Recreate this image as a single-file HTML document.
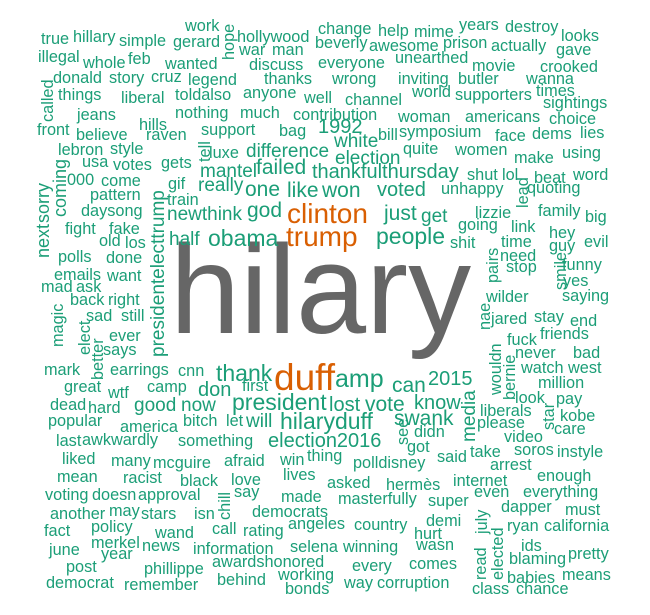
<!DOCTYPE html>
<html><head><meta charset="utf-8"><style>
html,body{margin:0;padding:0;background:#fff;}
svg text{font-family:"Liberation Sans",Arial,sans-serif;}
</style></head><body>
<svg id="cloud" width="650" height="610" viewBox="0 0 650 610" xmlns="http://www.w3.org/2000/svg"></svg>
<script>
// word, font size (frequency-driven), colour group
const words = ["hilary","clinton","trump","duff","obama","people","amp","president","hilaryduff","thank","one","like","won","failed","god","just","can","vote","swank","voted","election2016","thankfulthursday","know","lost","2015","don","1992","white","difference","election","mantel","newthink","half","really","get","good","now","will","media","presidentelecttrump","sorry","next","coming"];
const sizes = [126,28,28,37,23,23,25,23,23,23,21,21,21,21,21,21,21,21,21,20,20,20,20,20,20,20,20,19,19,19,19,19,19,19,19,19,19,19,19,19,18,18,18];
const small = ["work","hollywood","change","help","mime","years","destroy","looks","true","hillary","simple","gerard","war","man","beverly","awesome","prison","actually","gave","illegal","whole","feb","wanted","discuss","everyone","unearthed","movie","crooked","donald","story","cruz","legend","thanks","wrong","inviting","butler","wanna","things","liberal","toldalso","anyone","well","channel","world","supporters","times","jeans","nothing","much","contribution","sightings","front","hills","believe","raven","support","bag","woman","americans","choice","bill","symposium","face","dems","lies","lebron","style","luxe","quite","women","make","using","usa","votes","gets","shut","lol","beat","word","000","come","gif","unhappy","quoting","pattern","train","daysong","lizzie","family","big","fight","fake","old","los","going","link","hey","shit","time","guy","evil","polls","done","need","stop","funny","yes","saying","emails","want","mad","ask","back","right","wilder","sad","still","ever","says","jared","stay","end","friends","fuck","never","bad","watch","west","million","look","pay","liberals","kobe","please","care","video","soros","instyle","take","arrest","enough","everything","even","dapper","must","ryan","california","ids","blaming","pretty","babies","means","class","chance","mark","earrings","cnn","great","wtf","camp","first","dead","hard","popular","america","bitch","let","didn","last","awkwardly","something","got","liked","many","mcguire","afraid","win","thing","lives","polldisney","said","mean","racist","black","love","say","asked","hermès","internet","voting","doesn","approval","made","masterfully","super","another","may","stars","isn","democrats","fact","policy","wand","call","rating","angeles","country","demi","hurt","june","merkel","news","year","information","selena","winning","wasn","post","awardshonored","every","comes","phillippe","behind","working","democrat","remember","bonds","way","corruption","hope","called","tell","lead","pairs","smile","magic","elect","better","nae","wouldn","bernie","star","see","chill","july","elected","read"];
const smallSize = 16.3;
// layout (pixel placement from the rendered cloud): x, baseline y, rotated flag
const layout = {
"hilary":[170,333,0],"clinton":[287,223,0],"trump":[286,246,0],"duff":[274,390,0],"obama":[208,246,0],"people":[376,244,0],"amp":[335,387,0],"president":[232,410,0],"hilaryduff":[280,429,0],"thank":[216,381,0],"one":[245,196,0],"like":[287,197,0],"won":[322,197,0],"failed":[256,174,0],"god":[247,217,0],"just":[384,220,0],"can":[392,392,0],"vote":[365,411,0],"swank":[394,425,0],"voted":[377,196,0],"election2016":[268,447,0],"thankfulthursday":[312,178,0],"know":[414,409,0],"lost":[329,411,0],"2015":[428,385,0],"don":[198,396,0],"1992":[318,133,0],"white":[334,147,0],"difference":[246,157,0],"election":[335,164,0],"mantel":[200,177,0],"newthink":[167,220,0],"half":[169,245,0],"really":[198,191,0],"get":[421,222,0],"good":[134,411,0],"now":[181,411,0],"will":[246,427,0],
"media":[475,442,1],"presidentelecttrump":[164,357,1],"sorry":[49,223,1],"next":[49,258,1],"coming":[66,217,1],
"work":[185,31,0],"hollywood":[237,42,0],"change":[318,34,0],"help":[378,36,0],"mime":[414,37,0],"years":[459,30,0],"destroy":[505,32,0],"looks":[561,41,0],"true":[41,44,0],"hillary":[73,42,0],"simple":[119,46,0],"gerard":[173,47,0],"war":[239,55,0],"man":[272,55,0],"beverly":[315,48,0],"awesome":[369,51,0],"prison":[443,48,0],"actually":[491,51,0],"gave":[556,55,0],"illegal":[38,62,0],"whole":[83,68,0],"feb":[128,64,0],"wanted":[165,69,0],"discuss":[249,70,0],"everyone":[318,68,0],"unearthed":[395,63,0],"movie":[472,71,0],"crooked":[540,72,0],"donald":[53,83,0],"story":[109,83,0],"cruz":[151,82,0],"legend":[188,85,0],"thanks":[264,84,0],"wrong":[332,84,0],"inviting":[398,84,0],"butler":[458,84,0],"wanna":[526,84,0],"things":[58,100,0],"liberal":[121,103,0],"toldalso":[175,100,0],"anyone":[243,98,0],"well":[304,103,0],"channel":[345,105,0],"world":[412,97,0],"supporters":[455,100,0],"times":[536,96,0],"jeans":[77,120,0],"nothing":[175,118,0],"much":[240,118,0],"contribution":[293,120,0],"sightings":[543,108,0],"front":[37,135,0],"hills":[139,130,0],"believe":[76,140,0],"raven":[146,140,0],"support":[201,135,0],"bag":[279,136,0],"woman":[398,122,0],"americans":[465,122,0],"choice":[549,124,0],"bill":[378,140,0],"symposium":[399,137,0],"face":[495,141,0],"dems":[532,139,0],"lies":[580,138,0],"lebron":[58,155,0],"style":[110,154,0],"luxe":[209,158,0],"quite":[403,154,0],"women":[455,155,0],"make":[514,163,0],"using":[562,158,0],"usa":[82,167,0],"votes":[113,170,0],"gets":[161,168,0],"shut":[467,180,0],"lol":[502,180,0],"beat":[534,183,0],"word":[573,180,0],"000":[67,185,0],"come":[101,186,0],"gif":[168,189,0],"unhappy":[441,194,0],"quoting":[527,193,0],"pattern":[90,200,0],"train":[167,205,0],"daysong":[81,216,0],"lizzie":[475,218,0],"family":[538,216,0],"big":[585,222,0],"fight":[65,234,0],"fake":[109,234,0],"old":[99,246,0],"los":[125,248,0],"going":[458,230,0],"link":[511,232,0],"hey":[549,238,0],"shit":[450,248,0],"time":[501,247,0],"guy":[549,251,0],"evil":[584,247,0],"polls":[58,262,0],"done":[106,263,0],"need":[500,261,0],"stop":[506,272,0],"funny":[562,270,0],"yes":[563,286,0],"saying":[562,301,0],"emails":[54,280,0],"want":[107,281,0],"mad":[41,292,0],"ask":[76,292,0],"back":[70,305,0],"right":[108,305,0],"wilder":[486,302,0],"sad":[86,321,0],"still":[121,321,0],"ever":[109,341,0],"says":[103,355,0],"jared":[491,324,0],"stay":[534,322,0],"end":[570,326,0],"friends":[540,339,0],"fuck":[507,345,0],"never":[515,358,0],"bad":[573,358,0],"watch":[521,373,0],"west":[568,373,0],"million":[538,388,0],"look":[515,403,0],"pay":[556,404,0],"liberals":[480,416,0],"kobe":[560,421,0],"please":[477,428,0],"care":[554,434,0],"video":[504,442,0],"soros":[514,455,0],"instyle":[557,457,0],"take":[470,457,0],"arrest":[490,470,0],"enough":[537,481,0],"everything":[523,497,0],"even":[474,497,0],"dapper":[501,512,0],"must":[565,515,0],"ryan":[507,531,0],"california":[544,531,0],"ids":[521,551,0],"blaming":[509,564,0],"pretty":[568,559,0],"babies":[507,583,0],"means":[562,580,0],"class":[472,594,0],"chance":[516,594,0],"mark":[44,375,0],"earrings":[110,375,0],"cnn":[178,376,0],"great":[64,392,0],"wtf":[108,398,0],"camp":[147,392,0],"first":[242,391,0],"dead":[50,410,0],"hard":[88,413,0],"popular":[48,426,0],"america":[120,432,0],"bitch":[183,426,0],"let":[226,426,0],"didn":[414,437,0],"last":[56,446,0],"awkwardly":[82,445,0],"something":[178,446,0],"got":[407,452,0],"liked":[62,464,0],"many":[111,466,0],"mcguire":[153,468,0],"afraid":[224,466,0],"win":[280,465,0],"thing":[307,461,0],"lives":[283,480,0],"polldisney":[353,468,0],"said":[437,462,0],"mean":[57,482,0],"racist":[123,483,0],"black":[180,486,0],"love":[231,485,0],"say":[234,497,0],"asked":[327,488,0],"hermès":[386,490,0],"internet":[453,486,0],"voting":[45,500,0],"doesn":[92,500,0],"approval":[138,500,0],"made":[281,502,0],"masterfully":[338,504,0],"super":[428,506,0],"another":[50,519,0],"may":[109,516,0],"stars":[141,519,0],"isn":[194,519,0],"democrats":[252,517,0],"fact":[44,536,0],"policy":[91,532,0],"wand":[155,538,0],"call":[212,534,0],"rating":[243,536,0],"angeles":[288,529,0],"country":[354,530,0],"demi":[426,526,0],"hurt":[414,539,0],"june":[49,555,0],"merkel":[91,548,0],"news":[142,551,0],"year":[101,559,0],"information":[193,554,0],"selena":[290,552,0],"winning":[343,552,0],"wasn":[416,550,0],"post":[66,572,0],"awardshonored":[212,567,0],"every":[352,571,0],"comes":[409,569,0],"phillippe":[144,574,0],"behind":[217,585,0],"working":[278,580,0],"democrat":[46,588,0],"remember":[124,590,0],"bonds":[285,594,0],"way":[344,588,0],"corruption":[377,588,0],
"hope":[234,60,1],"called":[53,122,1],"tell":[210,162,1],"lead":[528,208,1],"pairs":[498,283,1],"smile":[566,290,1],"magic":[63,347,1],"elect":[90,355,1],"better":[103,380,1],"nae":[490,330,1],"wouldn":[501,395,1],"bernie":[515,400,1],"star":[554,430,1],"see":[408,445,1],"chill":[230,520,1],"july":[487,534,1],"elected":[503,580,1],"read":[486,580,1]
};
const NS = "http://www.w3.org/2000/svg";
const svg = document.getElementById("cloud");
function colorFor(w){
  if (w === "hilary") return "#666666";
  if (w === "clinton" || w === "trump" || w === "duff") return "#d95f02";
  return "#1b9e77";
}
function addWord(w, size){
  const p = layout[w];
  if (!p) return;
  const t = document.createElementNS(NS, "text");
  t.textContent = w;
  t.setAttribute("font-size", size);
  t.setAttribute("fill", colorFor(w));
  if (p[2]) {
    t.setAttribute("transform", "translate(" + p[0] + "," + p[1] + ") rotate(-90)");
  } else {
    t.setAttribute("x", p[0]);
    t.setAttribute("y", p[1]);
  }
  
  
  svg.appendChild(t);
}
words.forEach((w, i) => addWord(w, sizes[i]));
small.forEach(w => addWord(w, smallSize));
</script>
</body></html>
